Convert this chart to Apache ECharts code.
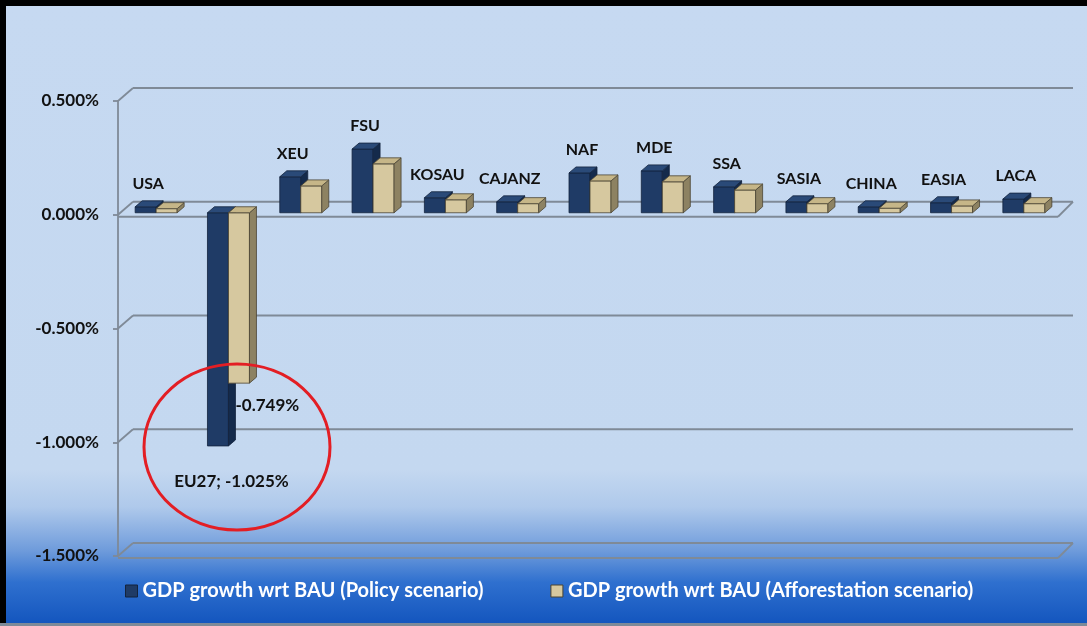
<!DOCTYPE html>
<html>
<head>
<meta charset="utf-8">
<script src="https://cdn.jsdelivr.net/npm/echarts@6/dist/echarts.min.js"></script>
<style>
  html, body { margin: 0; padding: 0; }
  #chart { width: 1087px; height: 626px; }
</style>
</head>
<body>
<div id="chart"></div>
<script>
// regions and GDP growth vs BAU (%)
const categories = ['USA', 'EU27', 'XEU', 'FSU', 'KOSAU', 'CAJANZ', 'NAF', 'MDE', 'SSA', 'SASIA', 'CHINA', 'EASIA', 'LACA'];
const policy = [0.026, -1.025, 0.158, 0.280, 0.066, 0.048, 0.175, 0.184, 0.114, 0.048, 0.026, 0.044, 0.060];
const afforest = [0.018, -0.749, 0.118, 0.215, 0.057, 0.040, 0.140, 0.136, 0.100, 0.040, 0.020, 0.030, 0.040];
const yTicks = [0.5, 0, -0.5, -1, -1.5];
const floorTicks = [0, -1.5];
const seriesNames = ['GDP growth wrt BAU (Policy scenario)', 'GDP growth wrt BAU (Afforestation scenario)'];

const chart = echarts.init(document.getElementById('chart'));

const FONT = 'Lato, "Open Sans", sans-serif';
const DX = 7, DY = -6;      // bar depth
const WX = 15, WY = -13;    // wall depth
const GRID_COLOR = '#7f8a97';

const palettes = [
  { front: '#1f3b66', top: '#2a4a78', side: '#142a4b', stroke: '#13233d' },
  { front: '#d6c89f', top: '#c6b688', side: '#8d8262', stroke: '#4a4433' }
];

function frameItem(params, api) {
  const cs = params.coordSys;
  const v = api.value(1);
  const y = api.coord([0, v])[1];
  const style = { stroke: GRID_COLOR, lineWidth: 1.8 };
  const children = [
    { type: 'line', shape: { x1: cs.x, y1: y, x2: cs.x + WX, y2: y + WY }, style },
    { type: 'line', shape: { x1: cs.x + WX, y1: y + WY, x2: cs.x + cs.width + WX, y2: y + WY }, style }
  ];
  if (floorTicks.indexOf(v) >= 0) {
    children.push({ type: 'line', shape: { x1: cs.x, y1: y + 2, x2: cs.x + cs.width, y2: y + 2 }, style });
    children.push({ type: 'line', shape: { x1: cs.x + cs.width, y1: y + 2, x2: cs.x + cs.width + WX, y2: y + WY }, style });
  }
  return { type: 'group', children };
}

function barRenderer(s) {
  const pal = palettes[s];
  return function (params, api) {
    const i = api.value(0);
    const v = api.value(1);
    const base = api.coord([i, 0]);
    const cx = base[0];
    const y0 = base[1] - 2;
    const yv = api.coord([i, v])[1] - 2;
    const x1 = cx + (s === 0 ? -19 : 2);
    const x2 = x1 + 21;
    const ya = Math.min(y0, yv), yb = Math.max(y0, yv);
    const line = { stroke: pal.stroke, lineWidth: 0.8 };
    const children = [
      { type: 'rect', shape: { x: x1, y: ya, width: x2 - x1, height: yb - ya },
        style: Object.assign({ fill: pal.front }, line) },
      { type: 'polygon', shape: { points: [[x2, ya], [x2 + DX, ya + DY], [x2 + DX, yb + DY], [x2, yb]] },
        style: Object.assign({ fill: pal.side }, line) },
      { type: 'polygon', shape: { points: [[x1, ya], [x2, ya], [x2 + DX, ya + DY], [x1 + DX, ya + DY]] },
        style: Object.assign({ fill: pal.top }, line) }
    ];
    const textStyle = { fill: '#111', fontSize: 16, fontWeight: 'bold', fontFamily: FONT, verticalAlign: 'middle' };
    if (s === 0 && v >= 0) {
      children.push({ type: 'text', style: Object.assign({ text: categories[i], x: x1 + 13, y: yv - 23, align: 'center' }, textStyle) });
    } else if (s === 0) {
      children.push({ type: 'text', style: Object.assign({ text: categories[i] + '; ' + v.toFixed(3) + '%', x: x1 + 24, y: yv + 36, align: 'center' }, textStyle, { fontSize: 17 }) });
    } else if (v < 0) {
      children.push({ type: 'text', style: Object.assign({ text: v.toFixed(3) + '%', x: x1 + 7, y: yv + 22, align: 'left' }, textStyle, { fontSize: 17 }) });
    }
    return { type: 'group', children };
  };
}

chart.setOption({
  backgroundColor: {
    type: 'linear', x: 0, y: 0, x2: 0, y2: 1,
    colorStops: [
      { offset: 0, color: '#c6d9f1' },
      { offset: 0.75, color: '#c4d8f0' },
      { offset: 0.81, color: '#afc9eb' },
      { offset: 0.88, color: '#6e9bdb' },
      { offset: 0.93, color: '#2f70cf' },
      { offset: 1, color: '#1254bd' }
    ]
  },
  animation: false,
  grid: { left: 118, right: 29, top: 101, bottom: 70 },
  xAxis: {
    type: 'category',
    data: categories,
    boundaryGap: true,
    show: false
  },
  yAxis: {
    type: 'value',
    min: -1.5,
    max: 0.5,
    interval: 0.5,
    axisLine: { show: true, lineStyle: { color: GRID_COLOR, width: 1.8 } },
    axisTick: { show: true, length: 5, lineStyle: { color: GRID_COLOR, width: 1.8 } },
    splitLine: { show: false },
    axisLabel: {
      margin: 19,
      color: '#111',
      fontSize: 17,
      fontWeight: 'bold',
      fontFamily: FONT,
      formatter: v => v.toFixed(3) + '%'
    }
  },
  legend: {
    left: 125,
    top: 581,
    padding: 0,
    itemWidth: 12,
    itemHeight: 12,
    itemGap: 67,
    icon: 'rect',
    data: [
      { name: seriesNames[0], itemStyle: { borderColor: '#13233d', borderWidth: 1 } },
      { name: seriesNames[1], itemStyle: { borderColor: '#4a4433', borderWidth: 1 } }
    ],
    textStyle: { color: '#fff', fontSize: 20, fontWeight: 'bold', fontFamily: FONT }
  },
  graphic: [
    { type: 'rect', shape: { x: 0, y: 0, width: 1087, height: 6 }, style: { fill: '#000' }, z: 100 },
    { type: 'rect', shape: { x: 0, y: 0, width: 6, height: 626 }, style: { fill: '#000' }, z: 100 },
    { type: 'rect', shape: { x: 0, y: 623, width: 1087, height: 3 }, style: { fill: '#7d8a99' }, z: 100 },
    { type: 'ellipse', shape: { cx: 237, cy: 447, rx: 93, ry: 83 }, style: { fill: null, stroke: '#e31e24', lineWidth: 3 }, z: 100 }
  ],
  series: [
    {
      type: 'custom',
      silent: true,
      z: 1,
      renderItem: frameItem,
      data: yTicks.map(v => [0, v])
    },
    {
      name: seriesNames[0],
      type: 'custom',
      z: 2,
      itemStyle: { color: palettes[0].front },
      renderItem: barRenderer(0),
      data: policy.map((v, i) => [i, v])
    },
    {
      name: seriesNames[1],
      type: 'custom',
      z: 3,
      itemStyle: { color: palettes[1].front },
      renderItem: barRenderer(1),
      data: afforest.map((v, i) => [i, v])
    }
  ]
});
</script>
</body>
</html>
